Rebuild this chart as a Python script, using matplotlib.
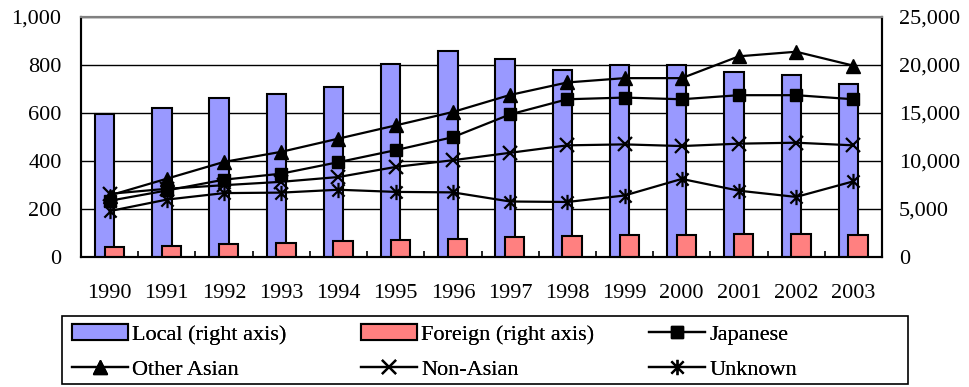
import matplotlib
matplotlib.use("Agg")
import matplotlib.pyplot as plt
from matplotlib.path import Path
from matplotlib.patches import Rectangle, Patch
from matplotlib.lines import Line2D
from matplotlib.font_manager import FontProperties
import numpy as np

years = ["1990", "1991", "1992", "1993", "1994", "1995", "1996",
         "1997", "1998", "1999", "2000", "2001", "2002", "2003"]
local = [14830, 15540, 16510, 16930, 17690, 20070, 21400,
         20560, 19470, 20000, 20000, 19200, 18880, 18010]
foreign = [980, 1150, 1330, 1400, 1610, 1750, 1850,
           2030, 2170, 2240, 2240, 2380, 2350, 2300]
japanese = [233, 276, 321, 346, 394, 444, 498, 593, 656, 663, 656, 673, 673, 656]
other_asian = [255, 325, 395, 437, 492, 547, 603, 674, 726, 744, 744, 835, 854, 796]
non_asian = [262, 283, 298, 312, 332, 374, 402, 433, 464, 468, 461, 471, 475, 464]
unknown = [190, 238, 265, 267, 279, 270, 268, 230, 228, 255, 324, 275, 249, 314]

FONT = "Liberation Serif"
FS = 16
plt.rcParams["font.family"] = [FONT, "DejaVu Serif"]
fp = FontProperties(family=[FONT, "DejaVu Serif"], size=FS)

W, H = 969, 387
fig = plt.figure(figsize=(W / 100, H / 100), dpi=100)
L, R, T, B = 81, 882, 16.7, 256.7
ax2 = fig.add_axes([L / W, 1 - B / H, (R - L) / W, (B - T) / H])
ax = ax2.twinx()
ax.set_zorder(ax2.get_zorder() + 1)
ax.patch.set_visible(False)

x = np.arange(len(years))
bw = 0.338
blue = "#9999FF"
red = "#FF8080"
ax2.bar(x - 0.087, local, width=bw, color=blue, edgecolor="black", linewidth=1.5, zorder=3)
ax2.bar(x + 0.082, foreign, width=bw, color=red, edgecolor="black", linewidth=1.5, zorder=4)

ax2.set_ylim(0, 25000)
ax2.set_yticks(np.arange(0, 25001, 5000))
ax2.set_xlim(-0.5, len(years) - 0.5)
ax2.grid(axis="y", color="black", linewidth=1.0, zorder=0)
ax2.set_axisbelow(True)
ax2.yaxis.tick_right()
ax2.set_yticklabels([f"{v:,}" for v in range(0, 25001, 5000)], fontproperties=fp)
ax2.tick_params(axis="y", length=0, pad=12)
ax2.set_xticks(x)
ax2.set_xticklabels(years, fontproperties=fp)
ax2.set_xticks(np.arange(-0.5, len(years), 1.0), minor=True)
ax2.tick_params(axis="x", which="major", length=0, pad=20)
ax2.tick_params(axis="x", which="minor", direction="in", length=4, width=1.2)

ax.set_ylim(0, 1000)
ax.set_yticks(np.arange(0, 1001, 200))
ax.yaxis.tick_left()
ax.set_yticklabels([f"{v:,}" for v in range(0, 1001, 200)], fontproperties=fp)
ax.tick_params(axis="y", length=0, pad=14)
ax.tick_params(axis="x", which="both", length=0, labelbottom=False)

ast_path = Path([(-1, -1), (1, 1), (-1, 1), (1, -1), (0, -1.25), (0, 1.25)],
                [Path.MOVETO, Path.LINETO, Path.MOVETO, Path.LINETO, Path.MOVETO, Path.LINETO])

lw = 1.6
kw = dict(color="black", linewidth=lw, zorder=5)
ax.plot(x, japanese, marker="s", markersize=9, **kw)
ax.plot(x, other_asian, marker="^", markersize=10, **kw)
ax.plot(x, non_asian, marker="x", markersize=10, markeredgewidth=1.6, **kw)
ax.plot(x, unknown, marker=ast_path, markersize=11, markeredgewidth=1.6,
        markerfacecolor="none", **kw)

for a in (ax, ax2):
    for s in a.spines.values():
        s.set_linewidth(1.5)
        s.set_color("black")
    a.spines["top"].set_color("#808080")

# legend
h_local = Patch(facecolor=blue, edgecolor="black", linewidth=1.5)
h_foreign = Patch(facecolor=red, edgecolor="black", linewidth=1.5)
h_jap = Line2D([], [], color="black", lw=lw, marker="s", markersize=9)
h_oa = Line2D([], [], color="black", lw=lw, marker="^", markersize=10)
h_na = Line2D([], [], color="black", lw=lw, marker="x", markersize=10, markeredgewidth=1.6)
h_un = Line2D([], [], color="black", lw=lw, marker=ast_path, markersize=11,
              markeredgewidth=1.6, markerfacecolor="none")

cols = [([h_local, h_oa], ["Local (right axis)", "Other Asian"], 72),
        ([h_foreign, h_na], ["Foreign (right axis)", "Non-Asian"], 361),
        ([h_jap, h_un], ["Japanese", "Unknown"], 649)]
for hs, ls, px in cols:
    lg = fig.legend(hs, ls, loc="upper left", bbox_to_anchor=(px / W, 1 - 324 / H),
                    frameon=False, prop=fp, handlelength=2.5, handleheight=0.75,
                    handletextpad=0.2, labelspacing=0.62, borderpad=0.0,
                    borderaxespad=0.0)
    fig.add_artist(lg)

fig.add_artist(Rectangle((62 / W, 1 - 384 / H), (908 - 62) / W, (384 - 316) / H,
                         transform=fig.transFigure, fill=False, edgecolor="black",
                         linewidth=1.2))

fig.savefig("out.png", dpi=100)
